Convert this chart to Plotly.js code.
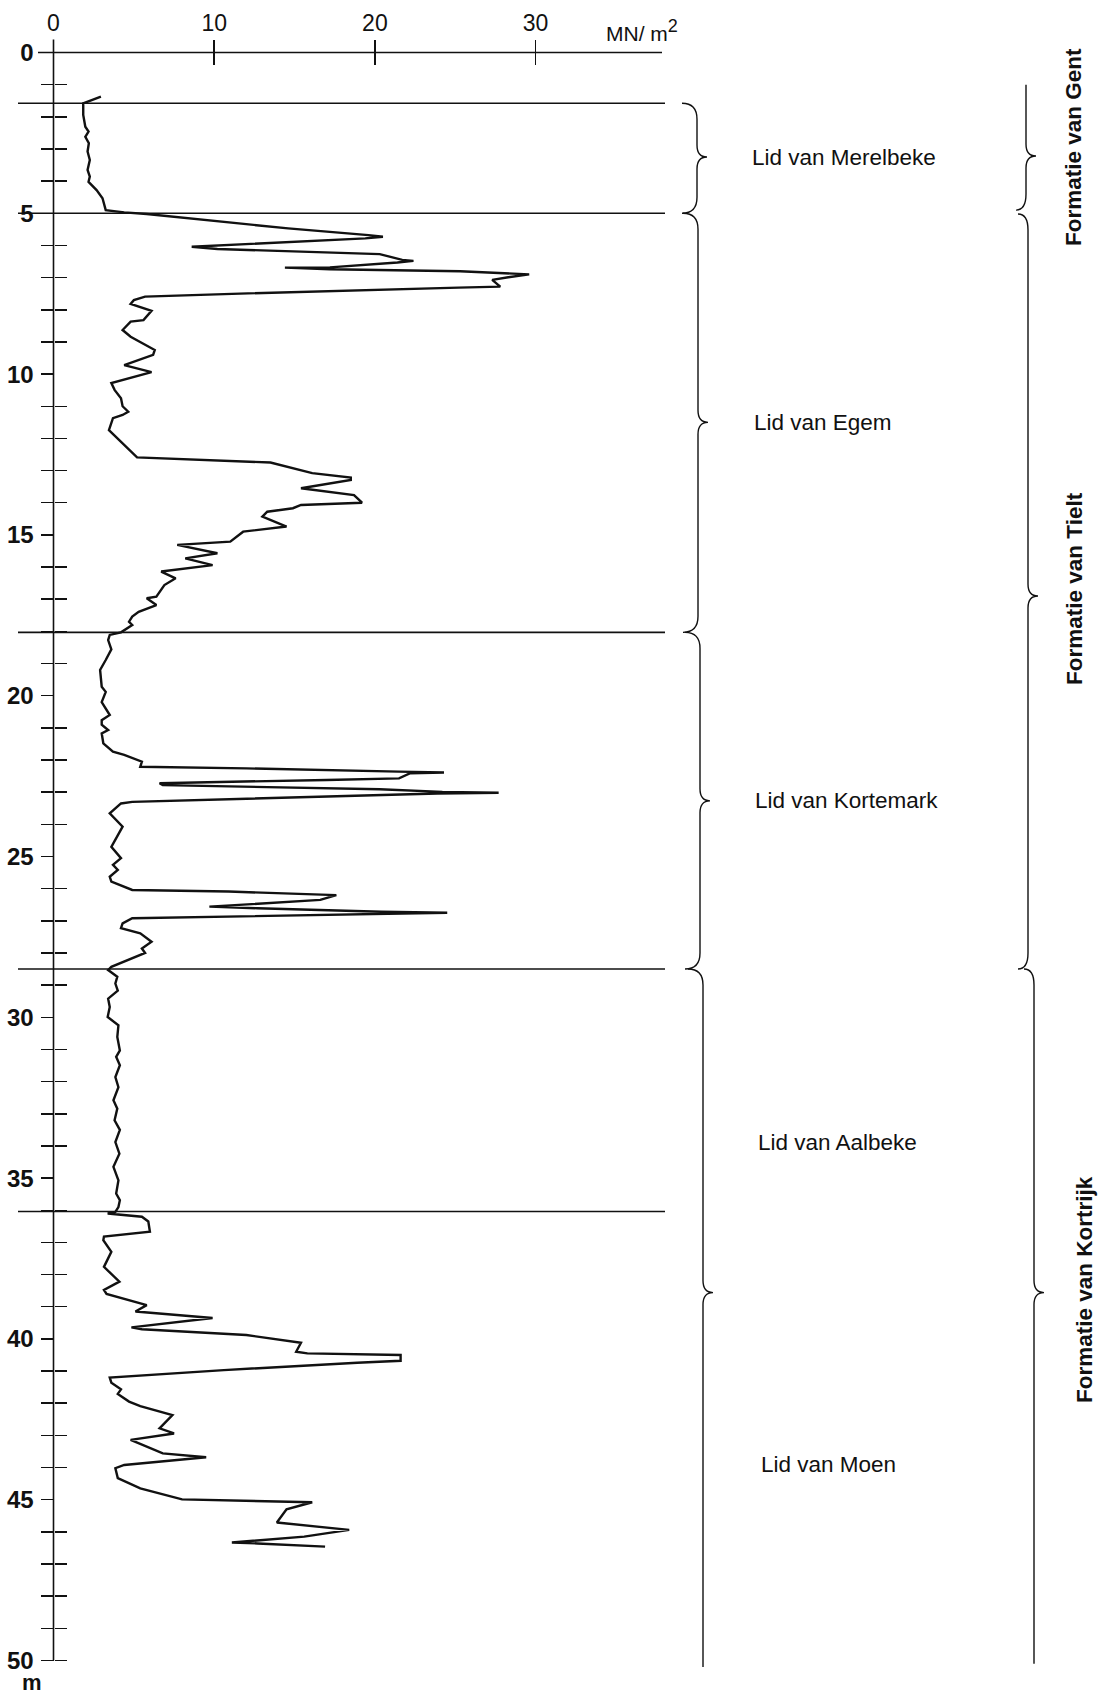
<!DOCTYPE html>
<html>
<head>
<meta charset="utf-8">
<script src="https://cdn.plot.ly/plotly-3.0.1.min.js"></script>
<style>
html,body{margin:0;padding:0;background:#ffffff;}
#chart{width:1099px;height:1694px;}
</style>
</head>
<body>
<div id="chart"></div>
<script>
// ---------------- DATA ----------------
// depth below surface (m)
const depth = [
  1.37, 1.58, 1.94, 2.31, 2.46, 2.62, 2.82, 3.08, 3.34, 3.65, 3.86, 4.02, 4.28, 4.53, 4.90, 4.97,
  5.02, 5.47, 5.68, 5.73, 5.78, 5.99, 6.04, 6.11, 6.19, 6.27, 6.45, 6.48, 6.53, 6.68, 6.69, 6.74,
  6.80, 6.85, 6.90, 6.99, 7.07, 7.28, 7.31, 7.49, 7.59, 7.70, 7.82, 8.03, 8.32, 8.37, 8.63, 8.84,
  9.25, 9.40, 9.72, 9.94, 10.28, 10.49, 10.75, 11.00, 11.17, 11.27, 11.37, 11.74, 12.50, 12.59,
  12.75, 13.08, 13.22, 13.29, 13.55, 13.76, 14.00, 14.07, 14.17, 14.28, 14.43, 14.59, 14.74, 14.90,
  15.21, 15.31, 15.57, 15.73, 15.94, 16.14, 16.35, 16.56, 16.92, 16.97, 17.18, 17.39, 17.54, 17.70,
  17.80, 18.03, 18.11, 18.27, 18.56, 18.89, 19.20, 19.72, 19.88, 20.20, 20.39, 20.60, 20.76, 20.90,
  21.07, 21.17, 21.48, 21.74, 21.84, 22.05, 22.21, 22.26, 22.36, 22.39, 22.41, 22.57, 22.62, 22.67,
  22.72, 22.78, 22.91, 22.99, 23.02, 23.04, 23.09, 23.22, 23.30, 23.35, 23.66, 24.07, 24.70, 25.05,
  25.26, 25.42, 25.63, 25.78, 26.04, 26.09, 26.16, 26.20, 26.35, 26.51, 26.56, 26.61, 26.72, 26.75,
  26.79, 26.85, 26.92, 27.08, 27.23, 27.39, 27.65, 27.86, 28.00, 28.43, 28.53,
  28.74, 28.95, 29.17, 29.42, 29.68, 29.99, 30.25, 30.61, 31.03, 31.23, 31.49, 31.86, 32.17, 32.58,
  32.84, 33.20, 33.50, 33.88, 34.24, 34.65, 35.07, 35.48, 35.69, 35.90, 36.05,
  36.10, 36.20, 36.35, 36.67, 36.82, 36.93, 37.29, 37.76, 38.22, 38.48, 38.60, 38.95, 39.15, 39.35,
  39.64, 39.70, 39.88, 40.12, 40.40, 40.45, 40.47, 40.50, 40.68, 40.74, 40.97, 41.15, 41.20, 41.36,
  41.57, 41.71, 41.95, 42.09, 42.37, 42.78, 42.94, 43.14, 43.56, 43.68, 43.92, 44.02, 44.33, 44.65,
  44.99, 45.08, 45.30, 45.71, 45.94, 46.15, 46.33, 46.36, 46.46
];
// cone resistance (MN/m2)
const resistance = [
  2.95, 1.85, 1.85, 1.98, 2.18, 1.98, 2.20, 2.12, 2.26, 2.12, 2.26, 2.18, 2.68, 3.05, 3.25, 4.40,
  5.80, 14.6, 19.6, 20.5, 19.4, 10.3, 8.6, 10.2, 15.8, 20.3, 21.7, 22.4, 21.4, 17.2, 14.4, 17.2,
  25.3, 27.7, 29.6, 28.3, 27.3, 27.8, 25.2, 12.1, 5.7, 5.0, 4.8, 6.1, 5.6, 4.8, 4.3, 4.8,
  6.3, 6.2, 4.4, 6.1, 3.6, 3.8, 4.2, 4.3, 4.65, 4.3, 3.7, 3.45, 5.0, 5.2,
  13.5, 16.1, 18.5, 18.5, 15.4, 18.7, 19.2, 15.4, 14.9, 13.3, 13.0, 13.8, 14.5, 11.8,
  11.0, 7.7, 10.2, 8.2, 9.9, 6.7, 7.6, 6.9, 6.4, 5.8, 6.4, 5.3, 4.9, 4.7,
  4.9, 4.2, 3.5, 3.4, 3.6, 3.25, 2.9, 3.0, 3.25, 3.0, 3.25, 3.5, 3.0, 3.0,
  3.4, 3.0, 3.1, 3.7, 4.4, 5.5, 5.4, 12.0, 21.5, 24.3, 22.2, 21.5, 17.0, 10.9,
  6.6, 6.8, 20.3, 24.2, 27.7, 23.9, 20.3, 10.8, 4.9, 4.2, 3.5, 4.3, 3.6, 4.2,
  3.7, 4.0, 3.5, 3.6, 4.9, 10.9, 16.1, 17.6, 16.6, 11.8, 9.7, 12.7, 20.4, 24.5,
  19.9, 10.4, 4.9, 4.3, 4.2, 5.4, 6.1, 5.5, 5.7, 3.6, 3.4,
  3.97, 3.85, 4.0, 3.4, 3.5, 3.37, 4.04, 3.97, 4.13, 3.9, 4.13, 3.85, 4.04, 3.73,
  3.97, 3.8, 4.13, 3.85, 4.1, 3.73, 4.04, 3.9, 4.13, 4.04, 3.85,
  3.37, 5.5, 5.9, 6.0, 3.14, 3.1, 3.6, 3.14, 4.1, 3.14, 3.3, 5.8, 5.1, 9.9,
  4.85, 5.5, 12.0, 15.4, 15.1, 15.8, 19.6, 21.6, 21.6, 18.9, 10.6, 4.9, 3.5, 3.6,
  4.2, 4.0, 4.7, 5.4, 7.4, 6.6, 7.5, 4.8, 6.8, 9.5, 4.4, 3.85, 4.0, 5.4,
  8.0, 16.1, 14.5, 13.9, 18.4, 15.6, 11.1, 12.7, 16.9
];

const xTickVals = [0, 10, 20, 30];
const xTickText = ['0', '10', '20', '30'];
const yMajorVals = [0, 5, 10, 15, 20, 25, 30, 35, 40, 45, 50];
const yMajorText = ['0', '5', '10', '15', '20', '25', '30', '35', '40', '45', '50'];
const yMinorVals = [1,2,3,4,6,7,8,9,11,12,13,14,16,17,18,19,21,22,23,24,26,27,28,29,
                    31,32,33,34,36,37,38,39,41,42,43,44,46,47,48,49,50];

// layer boundaries (m)
const boundaryDepths = [1.58, 5.0, 18.03, 28.5, 36.04];

// members (Lid)
const memberNames = ['Lid van Merelbeke', 'Lid van Egem', 'Lid van Kortemark', 'Lid van Aalbeke', 'Lid van Moen'];
const memberLabelDepths = [3.28, 11.49, 23.27, 33.89, 43.89];
// member braces: [top, tip, bottom]
const memberBraces = [[1.58, 3.25, 5.0], [5.0, 11.5, 18.03], [18.03, 23.27, 28.5], [28.5, 38.56, 50.2]];

// formations
const formationNames = ['Formatie van Gent', 'Formatie van Tielt', 'Formatie van Kortrijk'];
const formationLabelDepths = [2.94, 16.68, 38.48];
const formationBraces = [[1.0, 3.22, 4.9], [5.02, 16.9, 28.5], [28.5, 38.56, 50.1]];

const unitLabel = 'MN/ m<sup><span style="font-size:18px">2</span></sup>';
const depthUnit = 'm';

// ---------------- GEOMETRY HELPERS (page pixels -> data) ----------------
const W = 1099, H = 1694;
const PX0 = 53.5, PXU = 16.07;      // x: value 0 at px 53.5, 16.07 px per MN/m2
const PY0 = 52.5, PYU = 32.16;      // y: depth 0 at py 52.5, 32.16 px per m
const vx = px => (px - PX0) / PXU;
const dy = py => (py - PY0) / PYU;
const pyOf = d => PY0 + d * PYU;

const ink = '#111111';
const FONT = 'Liberation Sans, Arial, Helvetica, sans-serif';

function bracePath(xl, b, opts) {
  const w = opts.w, r = 16, t = opts.t, rt = 12;
  const y1 = pyOf(b[0]), ym = pyOf(b[1]), y2 = pyOf(b[2]);
  const P = (x, y) => vx(x).toFixed(4) + ',' + dy(y).toFixed(4);
  let s = '';
  if (opts.top) s += 'M' + P(xl - w, y1) + ' Q' + P(xl, y1) + ' ' + P(xl, y1 + r);
  else s += 'M' + P(xl, y1);
  s += ' L' + P(xl, ym - rt) + ' Q' + P(xl, ym) + ' ' + P(xl + t, ym);
  s += ' Q' + P(xl, ym) + ' ' + P(xl, ym + rt);
  if (opts.bottom) s += ' L' + P(xl, y2 - r) + ' Q' + P(xl, y2) + ' ' + P(xl - w, y2);
  else s += ' L' + P(xl, y2);
  return s;
}

// ---------------- TRACES ----------------
const traces = [
  {
    x: resistance, y: depth, type: 'scatter', mode: 'lines',
    line: {color: ink, width: 2.4, shape: 'linear'},
    xaxis: 'x', yaxis: 'y', hoverinfo: 'skip', showlegend: false
  },
  {
    x: [0], y: [0], type: 'scatter', mode: 'markers',
    marker: {opacity: 0, size: 1},
    xaxis: 'x2', yaxis: 'y2', hoverinfo: 'skip', showlegend: false
  }
];

// ---------------- SHAPES ----------------
const shapes = [];
shapes.push({type: 'line', xref: 'x', yref: 'y', x0: 0, x1: 0, y0: dy(39.5), y1: 50,
             line: {color: ink, width: 1.6}});
shapes.push({type: 'line', xref: 'x', yref: 'y', x0: vx(38), x1: vx(662), y0: 0, y1: 0,
             line: {color: ink, width: 1.6}});
boundaryDepths.forEach(d => shapes.push({
  type: 'line', xref: 'x', yref: 'y', x0: vx(18), x1: vx(665), y0: d, y1: d,
  line: {color: ink, width: 1.6}
}));
const memberBraceX = [697, 698, 700, 703];
memberBraces.forEach((b, i) => shapes.push({
  type: 'path', xref: 'x', yref: 'y',
  path: bracePath(memberBraceX[i], b, {w: 15, t: 10, top: true, bottom: i < memberBraces.length - 1}),
  line: {color: ink, width: 1.4}
}));
const formationBraceX = [1026, 1028, 1034];
formationBraces.forEach((b, i) => shapes.push({
  type: 'path', xref: 'x', yref: 'y',
  path: bracePath(formationBraceX[i], b, {w: 10, t: 10, top: i > 0, bottom: i < formationBraces.length - 1}),
  line: {color: ink, width: 1.4}
}));

// ---------------- ANNOTATIONS ----------------
const annotations = [];
const memberLabelX = [750, 752, 753, 756, 759];
memberNames.forEach((n, i) => annotations.push({
  xref: 'x', yref: 'y', x: vx(memberLabelX[i]), y: memberLabelDepths[i],
  text: n, showarrow: false, xanchor: 'left', yanchor: 'middle',
  font: {family: FONT, size: 22.5, color: ink}
}));
const formationLabelX = [1073, 1075, 1084];
formationNames.forEach((n, i) => annotations.push({
  xref: 'x', yref: 'y', x: vx(formationLabelX[i]), y: formationLabelDepths[i],
  text: '<b>' + n + '</b>', showarrow: false, xanchor: 'center', yanchor: 'middle', textangle: -90,
  font: {family: FONT, size: 22.5, color: ink}
}));
annotations.push({
  xref: 'x', yref: 'y', x: vx(604), y: dy(30), text: unitLabel, showarrow: false,
  xanchor: 'left', yanchor: 'middle', font: {family: FONT, size: 21, color: ink}
});
annotations.push({
  xref: 'x', yref: 'y', x: vx(31.5), y: dy(1682), text: '<b>' + depthUnit + '</b>', showarrow: false,
  xanchor: 'center', yanchor: 'middle', font: {family: FONT, size: 22, color: ink}
});

// ---------------- LAYOUT ----------------
const xRange = [vx(0), vx(W)];
const yRange = [dy(H), dy(0)];
const xPos = 1 - 51.7 / H;
const yPos = PX0 / W;

const layout = {
  width: W, height: H,
  margin: {l: 0, r: 0, t: 0, b: 0, pad: 0},
  paper_bgcolor: '#ffffff', plot_bgcolor: '#ffffff',
  showlegend: false,
  xaxis: {
    range: xRange, anchor: 'free', position: xPos, side: 'top',
    showgrid: false, zeroline: false, showline: false, automargin: false,
    tickmode: 'array', tickvals: [10, 20, 30], ticks: 'inside', ticklen: 12,
    tickwidth: 1.5, tickcolor: ink, showticklabels: false, fixedrange: true
  },
  xaxis2: {
    range: xRange, overlaying: 'x', anchor: 'free', position: xPos, side: 'top',
    showgrid: false, zeroline: false, showline: false, automargin: false,
    tickmode: 'array', tickvals: xTickVals, ticktext: xTickText, ticks: 'outside', ticklen: 12,
    tickwidth: 1.5, tickcolor: ink, tickfont: {family: FONT, size: 23, color: ink}, fixedrange: true
  },
  yaxis: {
    range: yRange, anchor: 'free', position: yPos, side: 'left',
    showgrid: false, zeroline: false, showline: false, automargin: false,
    tickmode: 'array', tickvals: yMajorVals, ticktext: yMajorText.map(t => '<b>' + t + '</b>'),
    ticks: 'outside', ticklen: 13,
    tickwidth: 1.5, tickcolor: ink, ticklabelstandoff: 2,
    tickfont: {family: FONT, size: 24, color: ink},
    minor: {tickmode: 'array', tickvals: yMinorVals, ticks: 'outside', ticklen: 13, tickwidth: 1.5, tickcolor: ink, showgrid: false},
    fixedrange: true
  },
  yaxis2: {
    range: yRange, overlaying: 'y', anchor: 'free', position: yPos, side: 'left',
    showgrid: false, zeroline: false, showline: false, automargin: false,
    tickmode: 'array', tickvals: yMinorVals, ticks: 'inside', ticklen: 12,
    tickwidth: 1.5, tickcolor: ink, showticklabels: false, fixedrange: true
  },
  shapes: shapes,
  annotations: annotations
};

Plotly.newPlot('chart', traces, layout, {staticPlot: true, displayModeBar: false, responsive: false});
</script>
</body>
</html>
